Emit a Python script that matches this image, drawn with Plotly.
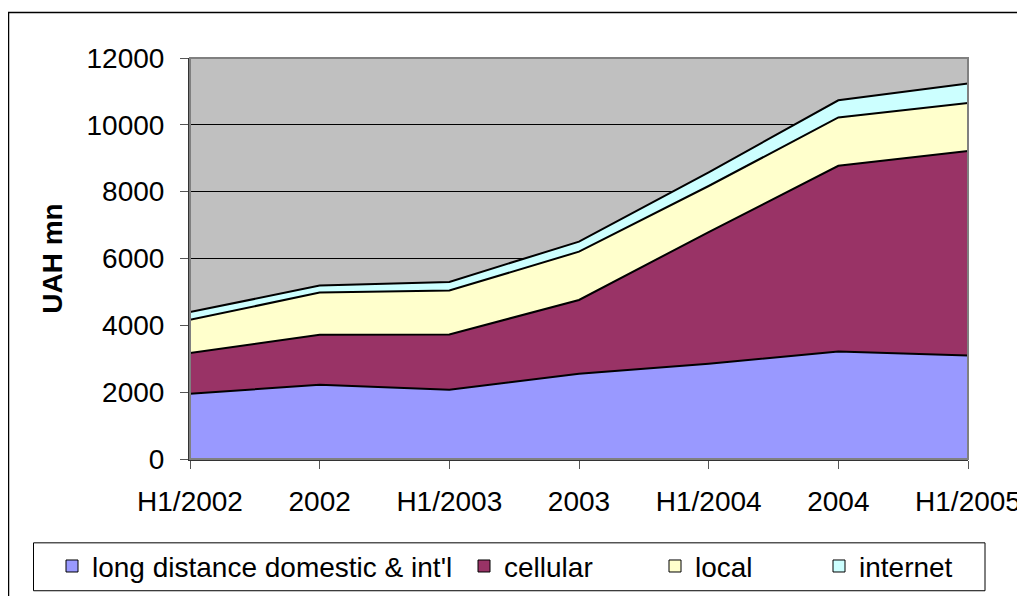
import plotly.graph_objects as go

categories = ["H1/2002", "2002", "H1/2003", "2003", "H1/2004", "2004", "H1/2005"]
long_distance = [1955, 2220, 2075, 2550, 2850, 3220, 3100]
cellular = [1215, 1495, 1650, 2210, 3940, 5555, 6120]
local = [995, 1265, 1315, 1445, 1380, 1445, 1435]
internet = [230, 210, 260, 300, 410, 515, 580]

series_names = ["long distance domestic & int'l", "cellular", "local", "internet"]
series_values = [long_distance, cellular, local, internet]
series_colors = ["#9999FF", "#993366", "#FFFFCC", "#CCFFFF"]

y_ticks = [0, 2000, 4000, 6000, 8000, 10000, 12000]

# the page body adds an 8px offset; coordinates below are page pixels
OFF = 8
W, H = 1025 - OFF, 596 - OFF
L, R, T, B = 190 - OFF, 968 - OFF, 57.7 - OFF, 459.5 - OFF


def px(x):
    return (x - OFF - L) / (R - L)


def py(y):
    return (B - (y - OFF)) / (B - T)


FONT = "Liberation Sans, Arial, sans-serif"
FS = 28
fig = go.Figure()

for name, vals, col in zip(series_names, series_values, series_colors):
    fig.add_trace(go.Scatter(
        x=categories, y=vals, name=name, stackgroup="one", mode="lines",
        line=dict(color="black", width=2), fillcolor=col, showlegend=False,
    ))

legend_left = [52, 464, 655, 819]
legend_keys = ["legend", "legend2", "legend3", "legend4"]
for name, col, key in zip(series_names, series_colors, legend_keys):
    fig.add_trace(go.Scatter(
        x=[None], y=[None], name=name, mode="markers",
        marker=dict(symbol="square", size=12, color=col, line=dict(color="black", width=1)),
        legend=key, showlegend=True,
    ))

layout_legends = {}
for key, lx in zip(legend_keys, legend_left):
    layout_legends[key] = dict(
        x=px(lx), y=py(567), xanchor="left", yanchor="middle",
        orientation="h", bgcolor="rgba(0,0,0,0)", borderwidth=0,
        font=dict(family=FONT, size=FS, color="black"),
    )

fig.update_layout(
    width=W, height=H,
    margin=dict(l=L, r=W - R, t=T, b=H - B, autoexpand=False),
    paper_bgcolor="white", plot_bgcolor="#C0C0C0",
    font=dict(family=FONT, size=FS, color="black"),
    **layout_legends,
    xaxis=dict(
        type="category", range=[0, len(categories) - 1],
        showgrid=False, showline=True, linecolor="#333333", linewidth=1.5,
        ticks="outside", ticklen=8, tickcolor="#555555", tickwidth=1,
        tickfont=dict(family=FONT, size=FS), zeroline=False,
        ticklabelstandoff=9,
    ),
    yaxis=dict(
        range=[0, 12000], tickvals=y_ticks, tickformat="d",
        showgrid=True, gridcolor="black", gridwidth=1,
        showline=True, linecolor="#333333", linewidth=2,
        ticks="outside", ticklen=8, tickcolor="#555555", tickwidth=1,
        tickfont=dict(family=FONT, size=FS), zeroline=False,
        ticklabelstandoff=10,
        title=dict(text="<b>UAH mn</b>", font=dict(family=FONT, size=FS), standoff=16),
    ),
    shapes=[
        # plot area border (top / right)
        dict(type="rect", xref="paper", yref="paper", x0=0, x1=1, y0=0, y1=1,
             line=dict(color="#808080", width=2), layer="above"),
        # legend box
        dict(type="rect", xref="paper", yref="paper",
             x0=px(33.5), x1=px(985), y0=py(591.5), y1=py(543.5),
             line=dict(color="black", width=1)),
        # outer chart border
        dict(type="rect", xref="paper", yref="paper",
             x0=px(8.5), x1=px(1023), y0=py(605), y1=py(12),
             line=dict(color="black", width=1.5)),
    ],
)

fig.write_html("out.html")
